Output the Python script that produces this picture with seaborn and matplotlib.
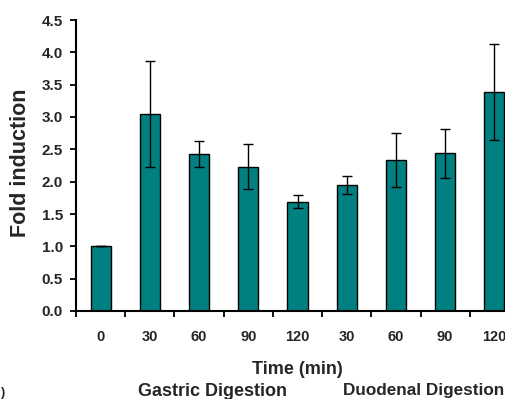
import matplotlib
matplotlib.use("Agg")
import matplotlib.pyplot as plt
import seaborn as sns
import numpy as np
import pandas as pd

# data
groups = ["G0", "G30", "G60", "G90", "G120", "D30", "D60", "D90", "D120"]
time_labels = ["0", "30", "60", "90", "120", "30", "60", "90", "120"]
fold = [1.0, 3.05, 2.43, 2.23, 1.69, 1.95, 2.34, 2.44, 3.39]
err = [0.0, 0.82, 0.20, 0.35, 0.10, 0.14, 0.42, 0.38, 0.74]

df = pd.DataFrame({"group": groups, "fold": fold, "err": err})

sns.set_style("white")
plt.rcParams["font.family"] = ["Liberation Sans", "DejaVu Sans"]
plt.rcParams["font.weight"] = "bold"

fig = plt.figure(figsize=(5.06, 3.99), dpi=100)
ax = fig.add_axes([76 / 506, 88 / 399, 443 / 506, 291 / 399])

sns.barplot(data=df, x="group", y="fold", color="#008080", edgecolor="black",
            linewidth=1, width=0.41, saturation=1, errorbar=None, ax=ax)
xs = np.arange(len(groups))
ax.errorbar(xs, df["fold"], yerr=df["err"], fmt="none", ecolor="black",
            elinewidth=1, capsize=3.5, capthick=1)

ax.set_xlim(-0.5, len(groups) - 0.5)
ax.set_ylim(0, 4.5)
ax.set_yticks(np.arange(0, 4.51, 0.5))
ax.set_yticklabels([f"{v:.1f}" for v in np.arange(0, 4.51, 0.5)], fontsize=11, fontweight="bold")

# boundary ticks on x, labels at the bar centres
ax.set_xticks(np.arange(-0.5, len(groups), 1.0))
ax.set_xticklabels([])
ax.set_xticks(xs, minor=True)
ax.set_xticklabels(time_labels, minor=True, fontsize=10.5, fontweight="bold")
ax.tick_params(bottom=True, left=True)
ax.tick_params(axis="x", which="major", direction="out", length=4.5, width=1.3, color="black")
ax.tick_params(axis="x", which="minor", bottom=False, length=0, pad=14)
ax.tick_params(axis="y", direction="out", length=4.5, width=1.3, color="black", pad=5)

for s in ["top", "right"]:
    ax.spines[s].set_visible(False)
for s in ["left", "bottom"]:
    ax.spines[s].set_color("black")
    ax.spines[s].set_linewidth(1.5)

ax.set_xlabel("")
ax.set_ylabel("")
fig.text(21 / 506, 1 - 163 / 399, "Fold induction", rotation=90, ha="center", va="center",
         fontsize=15.5, fontweight="bold")

fig.text(297 / 506, 1 - 370 / 399, "Time (min)", ha="center", va="center", fontsize=13, fontweight="bold")
fig.text(213 / 506, 1 - 391 / 399, "Gastric Digestion", ha="center", va="center", fontsize=13, fontweight="bold")
fig.text(424 / 506, 1 - 391 / 399, "Duodenal Digestion", ha="center", va="center", fontsize=12.3, fontweight="bold")
fig.text(0.5 / 506, 1 - 393 / 399, ")", ha="left", va="center", fontsize=9, fontweight="bold")

fig.savefig("out.png", dpi=100)
